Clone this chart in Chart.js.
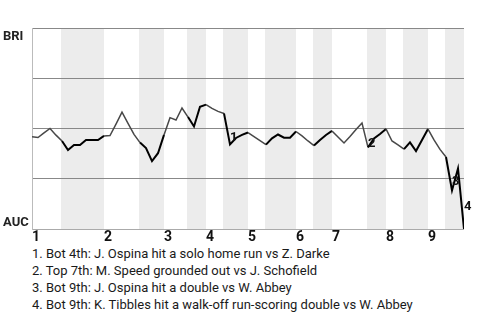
<!DOCTYPE html>
<html>
<head>
<meta charset="utf-8">
<script src="https://cdn.jsdelivr.net/npm/chart.js@4.4.1/dist/chart.umd.min.js"></script>
<style>
  html, body { margin: 0; padding: 0; background: #fff; }
  #wrap { position: relative; width: 480px; height: 245px; }
  #notes { padding-left: 32px; font-family: Roboto, sans-serif; font-size: 13px; line-height: 17px; color: #1a1a1a; white-space: nowrap; }
</style>
</head>
<body>
<div id="wrap"><canvas id="wpChart"></canvas></div>
<div id="notes"></div>
<script>
/* data
---------------------------- */
// BRI win probability (%) after each plate appearance, 0 = AUC wins
var winProb = [
  45.9, 45.5, 47.8, 50.0, 46.7, 43.8, 39.3, 41.8, 41.8, 44.3,
  44.3, 44.3, 46.3, 46.5, 52.2, 58.1, 52.6, 47.1, 43.0, 40.3,
  33.8, 37.7, 46.8, 55.4, 54.2, 60.2, 55.7, 51.0, 60.8, 61.9,
  60.0, 58.5, 57.5, 42.1, 45.3, 46.8, 48.0, 46.0, 44.0, 42.0,
  45.1, 47.0, 45.4, 45.4, 48.5, 46.3, 43.8, 41.5, 44.3, 46.8,
  48.8, 45.8, 42.8, 46.0, 49.5, 52.7, 40.6, 45.0, 47.3, 49.8,
  43.8, 41.8, 39.7, 43.1, 38.8, 44.3, 49.7, 44.3, 39.6, 35.8,
  19.2, 30.1, 0
];
// plate appearances in each half inning (top 1, bot 1, top 2, ...)
var halfInningPA = [5, 7, 6, 4, 4, 3, 3, 4, 3, 5, 3, 3, 6, 3, 3, 4, 3, 3];
var innings = ['1', '2', '3', '4', '5', '6', '7', '8', '9'];
var teams = ['BRI', 'AUC'];
// key plays: plate appearance index and text
var eventIdx = [33, 56, 70, 72];
var eventNotes = [
  'Bot 4th: J. Ospina hit a solo home run vs Z. Darke',
  'Top 7th: M. Speed grounded out vs J. Schofield',
  'Bot 9th: J. Ospina hit a double vs W. Abbey',
  'Bot 9th: K. Tibbles hit a walk-off run-scoring double vs W. Abbey'
];

// half inning boundaries in plate appearance units
var bounds = [0];
halfInningPA.forEach(function (n) { bounds.push(bounds[bounds.length - 1] + n); });
var inningStarts = innings.map(function (_, k) { return bounds[k * 2]; });

function halfOf(i) {
  for (var h = 0; h < bounds.length - 1; h++) {
    if (i >= bounds[h] && i < bounds[h + 1]) return h;
  }
  return bounds.length - 2;
}

/* plugins
---------------------------- */
var bandsPlugin = {
  id: 'bands',
  beforeDraw: function (chart) {
    var ctx = chart.ctx, area = chart.chartArea, xs = chart.scales.x;
    ctx.save();
    ctx.fillStyle = '#ececec';
    for (var h = 1; h < bounds.length - 1; h += 2) {
      var x0 = xs.getPixelForValue(bounds[h]) - 1;
      var x1 = xs.getPixelForValue(bounds[h + 1]);
      ctx.fillRect(x0, area.top, x1 - x0, area.bottom - area.top);
    }
    ctx.restore();
  }
};

var labelsPlugin = {
  id: 'labels',
  afterDatasetsDraw: function (chart) {
    var ctx = chart.ctx, ys = chart.scales.y;
    var pts = chart.getDatasetMeta(0).data;
    ctx.save();
    ctx.fillStyle = '#111';
    ctx.font = 'bold 13px Roboto, sans-serif';
    ctx.textAlign = 'left';
    // event numbers
    ctx.textBaseline = 'top';
    eventIdx.forEach(function (i, n) {
      var p0 = pts[i - 1], p1 = pts[i];
      ctx.fillText(String(n + 1), p1.x, (p0.y + p1.y) / 2 + 2);
    });
    // team names
    ctx.fillStyle = '#222';
    ctx.textBaseline = 'alphabetic';
    ctx.fillText(teams[0], 3, ys.getPixelForValue(100) + 12);
    ctx.fillText(teams[1], 3, ys.getPixelForValue(0) - 3);
    ctx.restore();
  }
};

/* chart
---------------------------- */
var ctx1 = document.getElementById('wpChart');
var wpChart = new Chart(ctx1, {
  type: 'line',
  data: {
    labels: winProb.map(function (_, i) { return i; }),
    datasets: [{
      data: winProb,
      borderColor: '#484848',
      borderWidth: 1.5,
      pointRadius: 0,
      tension: 0,
      segment: {
        borderColor: function (c) { return halfOf(c.p0DataIndex) % 2 ? '#000' : '#484848'; },
        borderWidth: function (c) { return halfOf(c.p0DataIndex) % 2 ? 2 : 1.5; }
      }
    }]
  },
  options: {
    responsive: true,
    maintainAspectRatio: false,
    animation: false,
    layout: { padding: { top: 28, right: 16, left: 0, bottom: 0 } },
    plugins: { legend: { display: false }, tooltip: { enabled: false } },
    scales: {
      x: {
        type: 'linear',
        min: 0,
        max: bounds[bounds.length - 1],
        grid: { display: false, drawTicks: false },
        border: { display: false },
        afterBuildTicks: function (scale) {
          scale.ticks = inningStarts.map(function (v) { return { value: v }; });
        },
        afterFit: function (scale) { scale.height = 16; },
        ticks: {
          align: 'start',
          autoSkip: false,
          maxRotation: 0,
          padding: 0,
          color: '#111',
          font: { family: 'Roboto', size: 14, weight: 'bold' },
          callback: function (v, i) { return innings[i]; }
        }
      },
      y: {
        min: 0,
        max: 100,
        ticks: { display: false, stepSize: 25 },
        grid: {
          drawTicks: false,
          color: function (c) { return c.tick && c.tick.value === 0 ? '#aaa' : '#888'; }
        },
        border: { display: true, color: '#bbb' },
        afterFit: function (scale) { scale.width = 32; }
      }
    }
  },
  plugins: [bandsPlugin, labelsPlugin]
});

// key play list under the chart
var notes = document.getElementById('notes');
eventNotes.forEach(function (t, n) {
  var d = document.createElement('div');
  d.textContent = (n + 1) + '. ' + t;
  notes.appendChild(d);
});
</script>
</body>
</html>
